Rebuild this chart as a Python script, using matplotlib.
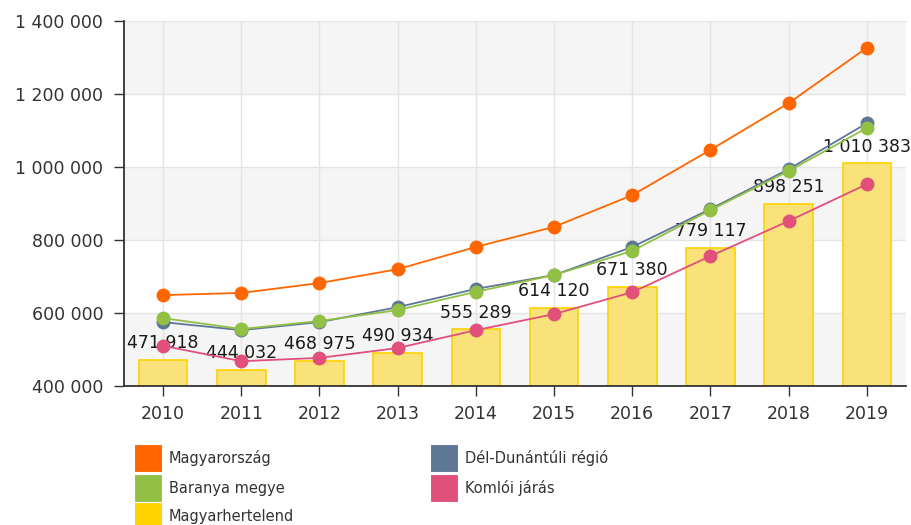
import matplotlib.pyplot as plt
import matplotlib.patches as mpatches
import matplotlib.ticker as mticker
import numpy as np

years = [2010, 2011, 2012, 2013, 2014, 2015, 2016, 2017, 2018, 2019]

# bars: Magyarhertelend
magyarhertelend = [471918, 444032, 468975, 490934, 555289, 614120, 671380, 779117, 898251, 1010383]

# lines
magyarorszag = [649000, 655000, 682000, 720000, 781000, 836000, 923000, 1047000, 1175000, 1327000]
del_dunantuli = [575000, 553000, 575000, 616000, 666000, 704000, 781000, 885000, 994000, 1120000]
baranya = [586000, 556000, 578000, 608000, 658000, 704000, 770000, 882000, 989000, 1107000]
komloi = [510000, 468000, 477000, 504000, 553000, 597000, 657000, 756000, 852000, 953000]

line_series = [
    ("Magyarország", magyarorszag, "#FF6600"),
    ("Dél-Dunántúli régió", del_dunantuli, "#5E7797"),
    ("Baranya megye", baranya, "#92C045"),
    ("Komlói járás", komloi, "#E0507A"),
]
bar_name, bar_color, bar_fill = "Magyarhertelend", "#FFD200", "#F9E27A"

plt.rcParams['font.family'] = ['DejaVu Sans']
fig = plt.figure(figsize=(9.12, 5.25), dpi=100)
ax = fig.add_axes([124 / 912, 1 - 386 / 525, (906 - 124) / 912, (386 - 21) / 525])

x = np.arange(len(years))
ax.set_xlim(-0.5, len(years) - 0.5)
ax.set_ylim(400000, 1400000)

# alternating bands
for i, lo in enumerate(range(400000, 1400000, 200000)):
    if i % 2 == 0:
        ax.axhspan(lo, lo + 200000, color="#F5F5F5", zorder=0, lw=0)
ax.yaxis.set_major_locator(mticker.MultipleLocator(200000))
ax.grid(True, color="#E4E4E4", lw=1, zorder=0.5)
ax.set_axisbelow(True)

ax.bar(x, magyarhertelend, width=0.62, bottom=0, color=bar_fill,
       edgecolor=bar_color, lw=1.2, zorder=2)
for xi, v in zip(x, magyarhertelend):
    ax.annotate(f"{v:,}".replace(",", " "), (xi, v), xytext=(0, 12),
                textcoords="offset points", ha="center", va="center",
                fontsize=12.5, color="#1a1a1a", zorder=3)

for name, vals, col in line_series:
    ax.plot(x, vals, color=col, lw=1.3, marker="o", ms=9, zorder=4)

ax.set_xticks(x)
ax.set_xticklabels([str(y) for y in years])
ax.yaxis.set_major_formatter(mticker.FuncFormatter(lambda v, p: f"{int(v):,}".replace(",", " ")))
ax.tick_params(axis="both", length=7, width=1, color="#333333", labelcolor="#333333", labelsize=12.5)
ax.tick_params(axis="x", pad=7)
ax.tick_params(axis="y", pad=8)
for s in ["top", "right"]:
    ax.spines[s].set_visible(False)
for s in ["left", "bottom"]:
    ax.spines[s].set_color("#333333")
    ax.spines[s].set_linewidth(1.3)

# legend drawn by hand (row-major like the original)
legend_items = [line_series[0][0::2], line_series[1][0::2],
                line_series[2][0::2], line_series[3][0::2],
                (bar_name, bar_color)]
col_x = [134, 430]
row_y = [458, 488, 516]
for k, (name, col) in enumerate(legend_items):
    cx = col_x[k % 2]
    cy = row_y[k // 2]
    fig.add_artist(mpatches.Rectangle((cx / 912, 1 - (cy + 14) / 525), 28 / 912, 28 / 525,
                                      transform=fig.transFigure, facecolor=col,
                                      edgecolor="white", lw=0.8))
    fig.text((cx + 35) / 912, 1 - cy / 525, name, fontsize=10.5, color="#333333",
             va="center", ha="left")

fig.savefig("out.png", dpi=100)
